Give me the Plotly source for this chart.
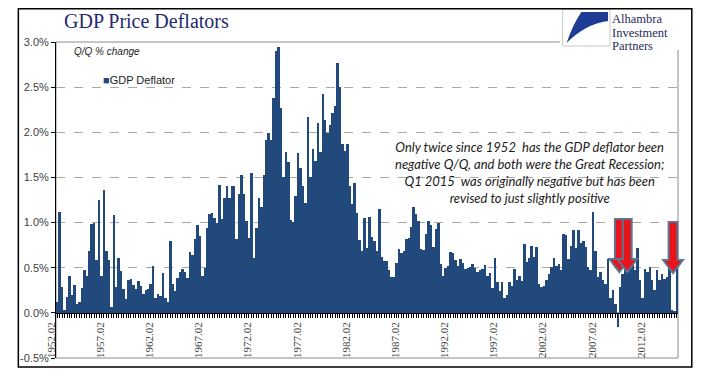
import plotly.graph_objects as go

# ---------------- data (quarterly GDP deflator, Q/Q % change) ----------------
start_year, start_q = 1952, 2
deflator = [
    0.12, 1.12, 0.29, 0.03, 0.18, 0.41, 0.20, 0.31, 0.10, 0.12,
    0.27, 0.47, 0.41, 0.69, 0.98, 1.00, 0.59, 1.25, 0.41, 1.36,
    0.69, 0.59, 0.06, 1.08, 0.29, 0.61, 0.46, 0.26, 0.15, 0.36,
    0.38, 0.31, 0.26, 0.35, 0.30, 0.21, 0.25, 0.26, 0.32, 0.52,
    0.16, 0.21, 0.19, 0.44, 0.16, 0.12, 0.80, 0.32, 0.24, 0.39,
    0.45, 0.49, 0.45, 0.39, 0.67, 0.64, 0.82, 0.97, 0.85, 0.41,
    0.50, 0.94, 1.09, 1.11, 1.05, 0.99, 1.42, 1.04, 1.27, 1.41,
    1.27, 1.41, 1.40, 0.82, 1.32, 1.53, 1.32, 1.02, 0.83, 1.55,
    0.61, 0.94, 1.27, 1.17, 1.53, 1.91, 1.99, 1.91, 2.38, 2.90,
    2.95, 2.27, 1.51, 1.78, 1.67, 1.03, 1.01, 1.29, 1.77, 1.60,
    1.41, 1.22, 2.17, 1.51, 1.82, 1.68, 2.10, 1.78, 2.42, 2.14,
    1.99, 2.08, 2.21, 2.29, 2.77, 2.50, 1.87, 1.79, 1.87, 1.40,
    1.21, 1.44, 1.11, 0.81, 0.68, 1.05, 0.72, 1.06, 0.84, 0.80,
    0.68, 1.15, 0.62, 0.57, 0.57, 0.48, 0.40, 0.40, 0.55, 0.71,
    0.66, 0.68, 0.82, 0.83, 0.95, 1.17, 1.10, 1.02, 0.71, 0.70,
    0.87, 1.02, 0.97, 0.73, 0.93, 0.99, 0.54, 0.41, 0.50, 0.52,
    0.67, 0.66, 0.58, 0.52, 0.60, 0.55, 0.49, 0.50, 0.51, 0.54,
    0.50, 0.45, 0.48, 0.49, 0.53, 0.41, 0.44, 0.28, 0.61, 0.34,
    0.24, 0.34, 0.16, 0.20, 0.34, 0.30, 0.49, 0.36, 0.41, 0.35,
    0.76, 0.56, 0.61, 0.74, 0.62, 0.73, 0.32, 0.29, 0.30, 0.36,
    0.43, 0.51, 0.61, 0.52, 0.54, 0.47, 0.87, 0.86, 0.60, 0.74,
    0.92, 0.72, 0.92, 0.77, 0.80, 0.73, 0.51, 0.47, 1.12, 0.69,
    0.40, 0.45, 0.36, 0.32, 0.60, 0.16, 0.25, 0.10, -0.16, 0.29,
    0.43, 0.49, 0.45, 0.54, 0.58, 0.47, 0.72, 0.36, 0.16, 0.49,
    0.45, 0.51, 0.36, 0.25, 0.47, 0.36, 0.43, 0.38, 0.40, 0.51,
    0.03, 0.02, 0.51,
]

quarters = []
for i in range(len(deflator)):
    k = (start_q - 1) + i
    quarters.append(f"{start_year + k // 4}.{k % 4 + 1:02d}")

label_every = 20
tick_text = [q if i % label_every == 0 else "" for i, q in enumerate(quarters)]

y_ticks = [-0.5, 0.0, 0.5, 1.0, 1.5, 2.0, 2.5, 3.0]
y_tick_text = [f"{v:.1f}%" for v in y_ticks]

title_text = "GDP Price Deflators"
series_name = "GDP Deflator"
unit_text = "Q/Q % change"
note_lines = [
    "Only twice since 1952  has the GDP deflator been",
    "negative Q/Q, and both were the Great Recession;",
    "Q1 2015  was originally negative but has been",
    "revised to just slightly positive",
]
logo_lines = ["Alhambra", "Investment", "Partners"]

# ---------------- geometry helpers (page pixel coords) ----------------
OFF = 8                      # page body margin that offsets the figure
W, H = 705, 375
P_LEFT, P_RIGHT, P_TOP, P_BOTTOM = 47, 678, 42, 358   # plot area on the page
PW, PH = P_RIGHT - P_LEFT, P_BOTTOM - P_TOP
ML, MT = P_LEFT - OFF, P_TOP - OFF
MR, MB = W - ML - PW, H - MT - PH
BAR = "#22497B"


def px(x):
    return (x - P_LEFT) / PW


def py(y):
    return (P_BOTTOM - y) / PH


fig = go.Figure()
fig.add_trace(go.Bar(
    x=quarters, y=deflator, name=series_name,
    marker=dict(color=BAR, line=dict(width=0)),
    showlegend=False,
))

zero_pos = (0 - y_ticks[0]) / (y_ticks[-1] - y_ticks[0])

fig.update_layout(
    width=W, height=H, autosize=False,
    margin=dict(l=ML, r=MR, t=MT, b=MB, pad=0),
    paper_bgcolor="white", plot_bgcolor="white",
    bargap=0,
    xaxis=dict(
        type="category",
        tickmode="array", tickvals=quarters, ticktext=tick_text,
        tickangle=-90, ticklabelshift=-6,
        ticks="outside", ticklen=4, tickwidth=1, tickcolor="black",
        showline=True, linecolor="black", linewidth=1,
        showgrid=False, zeroline=False,
        anchor="free", position=zero_pos,
        tickfont=dict(family="Liberation Serif", size=11, color="#404040"),
    ),
    yaxis=dict(
        range=[y_ticks[0], y_ticks[-1]],
        tickmode="array", tickvals=y_ticks, ticktext=y_tick_text,
        ticks="outside", ticklen=4, tickcolor="black",
        showline=True, linecolor="black", linewidth=1,
        showgrid=True, gridcolor="#A8A8A8", griddash="dash", gridwidth=1,
        zeroline=False,
        tickfont=dict(family="Liberation Sans", size=11, color="#404040"),
    ),
)

shapes = []
# plot frame (grey)
shapes.append(dict(type="rect", xref="paper", yref="paper", x0=0, x1=1, y0=0, y1=1,
                   line=dict(color="#8C8C8C", width=1), layer="below"))
# white background of the logo
shapes.append(dict(type="rect", xref="paper", yref="paper",
                   x0=px(558), x1=px(691), y0=py(50), y1=py(5),
                   fillcolor="white", line=dict(width=0), layer="above"))
# logo box + swoosh
shapes.append(dict(type="rect", xref="paper", yref="paper",
                   x0=px(561), x1=px(609), y0=py(46), y1=py(9),
                   line=dict(color="#C8C8C8", width=1), layer="above"))
sw = (f"M {px(580)},{py(12)} L {px(607)},{py(12)} L {px(607)},{py(21)} "
      f"Q {px(584)},{py(24)} {px(565)},{py(43)} Q {px(571)},{py(25)} {px(580)},{py(12)} Z")
shapes.append(dict(type="path", xref="paper", yref="paper", path=sw,
                   fillcolor="#1E3C96", line=dict(width=0), layer="above"))


def arrow(xc, ytop, ytip, sw=4.5, hw=10, hh=13):
    pts = [(xc - sw, ytop), (xc + sw, ytop), (xc + sw, ytip - hh), (xc + hw, ytip - hh),
           (xc, ytip), (xc - hw, ytip - hh), (xc - sw, ytip - hh)]
    d = "M " + " L ".join(f"{px(a)},{py(b)}" for a, b in pts) + " Z"
    return dict(type="path", xref="paper", yref="paper", path=d,
                fillcolor="#E8141C", line=dict(color="#5D7590", width=2), layer="above")


shapes.append(arrow(618.5, 219, 272))
shapes.append(arrow(626.5, 219, 272))
shapes.append(arrow(673, 222, 273))

# outer black border
shapes.append(dict(type="rect", xref="paper", yref="paper",
                   x0=px(OFF + 0.8), x1=px(692), y0=py(367), y1=py(OFF + 0.8),
                   line=dict(color="black", width=1.5), layer="above"))
fig.update_layout(shapes=shapes)

ann = []
ann.append(dict(xref="paper", yref="paper", x=px(53), y=py(21), xanchor="left", yanchor="middle",
                text=title_text, showarrow=False,
                font=dict(family="Liberation Serif", size=20, color="#1F2A70")))
ann.append(dict(xref="paper", yref="paper", x=px(63), y=py(52), xanchor="left", yanchor="middle",
                text=f"<i>{unit_text}</i>", showarrow=False,
                font=dict(family="Liberation Sans", size=10, color="#222222")))
ann.append(dict(xref="paper", yref="paper", x=px(93), y=py(80), xanchor="left", yanchor="middle",
                text=f"<span style='color:{BAR}'>■</span>{series_name}", showarrow=False,
                font=dict(family="Liberation Sans", size=11, color="#222222")))
for t, yy in zip(logo_lines, [18.5, 32.5, 46.5]):
    ann.append(dict(xref="paper", yref="paper", x=px(610), y=py(yy), xanchor="left", yanchor="middle",
                    text=t, showarrow=False, borderpad=0,
                    font=dict(family="Liberation Serif", size=12.5, color="#1F2A5C")))
ann.append(dict(xref="paper", yref="paper", x=px(527), y=py(172), xanchor="center", yanchor="middle",
                text="<i>" + "<br>".join(note_lines) + "</i>", showarrow=False, align="center",
                font=dict(family="Lato", size=13, color="#1A1A1A")))
fig.update_layout(annotations=ann)

fig.write_html("out.html")
